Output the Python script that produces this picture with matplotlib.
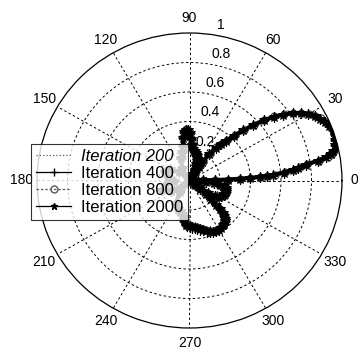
import numpy as np
import matplotlib
matplotlib.use("Agg")
import matplotlib.pyplot as plt
from matplotlib.lines import Line2D

plt.rcParams['font.family'] = ['Liberation Sans', 'DejaVu Sans']

# Angles (degrees) at which the beam patterns were read
angles_deg = [
    -180, -170, -160, -150, -140, -130, -120, -112, -106, -102, -99, -97, -95, -93,
    -90, -87, -84, -81, -78, -75, -72, -69, -66, -63, -60, -57, -54, -52, -50, -48,
    -46, -45, -44, -43, -42, -41, -40, -39, -38, -37, -36, -34, -32, -30, -27, -24,
    -21, -18, -15, -12, -10, -8, -6, -4, -2, -1,
    0, 0.5, 1, 1.5, 2, 2.5, 3, 3.5, 4, 5, 6, 7, 8, 9, 10, 11, 12, 14, 16, 18, 20,
    22, 24, 26, 28, 30, 32, 34, 36, 38, 40, 42, 44, 46, 48, 50, 52, 54, 56, 57, 58,
    59, 60, 61, 62, 64, 66, 68, 70, 72, 74, 76, 78, 80, 82, 84, 86, 88, 90, 92, 94,
    96, 98, 100, 104, 110, 120, 130, 140, 150, 160, 170,
]

r_iter200 = [
    0.10, 0.16, 0.19, 0.14, 0.04, 0.10, 0.18, 0.21, 0.22, 0.23, 0.25, 0.28, 0.30, 0.305,
    0.31, 0.315, 0.32, 0.325, 0.335, 0.345, 0.36, 0.37, 0.38, 0.385, 0.385, 0.38, 0.375, 0.37, 0.36, 0.35,
    0.33, 0.31, 0.28, 0.24, 0.19, 0.14, 0.09, 0.05, 0.01, 0.04, 0.08, 0.15, 0.20, 0.22, 0.235, 0.245,
    0.25, 0.25, 0.25, 0.245, 0.23, 0.20, 0.16, 0.11, 0.055, 0.027,
    0.00, 0.09, 0.17, 0.25, 0.33, 0.40, 0.46, 0.51, 0.55, 0.62, 0.67, 0.71, 0.76, 0.84, 0.90, 0.94, 0.96, 0.98, 0.99, 0.995, 0.995,
    0.985, 0.97, 0.95, 0.925, 0.895, 0.855, 0.81, 0.755, 0.695, 0.63, 0.555, 0.485, 0.415, 0.355, 0.315, 0.275, 0.215, 0.145, 0.105, 0.065,
    0.03, 0.01, 0.03, 0.05, 0.08, 0.10, 0.12, 0.14, 0.155, 0.17, 0.18, 0.19, 0.20, 0.205, 0.215, 0.24, 0.28, 0.32, 0.34, 0.345,
    0.33, 0.29, 0.24, 0.20, 0.16, 0.10, 0.03, 0.09, 0.15, 0.17, 0.14,
]

r_iter400 = [
    0.10, 0.16, 0.19, 0.14, 0.04, 0.10, 0.18, 0.21, 0.22, 0.23, 0.25, 0.28, 0.30, 0.31,
    0.315, 0.32, 0.325, 0.33, 0.34, 0.35, 0.365, 0.375, 0.38, 0.385, 0.385, 0.38, 0.375, 0.37, 0.36, 0.35,
    0.33, 0.31, 0.28, 0.24, 0.19, 0.14, 0.09, 0.05, 0.01, 0.04, 0.08, 0.15, 0.20, 0.22, 0.235, 0.245,
    0.25, 0.25, 0.25, 0.245, 0.23, 0.20, 0.16, 0.11, 0.055, 0.027,
    0.00, 0.09, 0.17, 0.25, 0.33, 0.40, 0.46, 0.51, 0.55, 0.62, 0.68, 0.72, 0.77, 0.85, 0.91, 0.945, 0.965, 0.985, 0.995, 1.0, 1.0,
    0.99, 0.975, 0.955, 0.93, 0.90, 0.86, 0.815, 0.76, 0.70, 0.635, 0.56, 0.49, 0.42, 0.36, 0.32, 0.28, 0.22, 0.15, 0.11, 0.07,
    0.03, 0.01, 0.03, 0.05, 0.08, 0.10, 0.12, 0.14, 0.155, 0.17, 0.18, 0.19, 0.20, 0.205, 0.215, 0.24, 0.28, 0.32, 0.34, 0.345,
    0.33, 0.29, 0.24, 0.20, 0.16, 0.10, 0.03, 0.09, 0.15, 0.17, 0.14,
]

r_iter800 = [
    0.10, 0.16, 0.19, 0.14, 0.04, 0.10, 0.18, 0.21, 0.22, 0.23, 0.25, 0.28, 0.30, 0.30,
    0.305, 0.31, 0.315, 0.32, 0.33, 0.34, 0.355, 0.365, 0.375, 0.38, 0.38, 0.375, 0.37, 0.365, 0.355, 0.345,
    0.325, 0.305, 0.275, 0.235, 0.185, 0.135, 0.09, 0.05, 0.01, 0.04, 0.08, 0.15, 0.195, 0.215, 0.23, 0.24,
    0.245, 0.25, 0.245, 0.24, 0.225, 0.195, 0.155, 0.105, 0.055, 0.027,
    0.00, 0.09, 0.17, 0.25, 0.33, 0.40, 0.46, 0.51, 0.56, 0.63, 0.69, 0.73, 0.78, 0.86, 0.92, 0.95, 0.97, 0.99, 1.0, 1.0, 1.0,
    0.995, 0.98, 0.96, 0.935, 0.905, 0.865, 0.82, 0.765, 0.705, 0.64, 0.565, 0.495, 0.425, 0.365, 0.325, 0.285, 0.225, 0.155, 0.11, 0.07,
    0.03, 0.01, 0.03, 0.05, 0.08, 0.10, 0.12, 0.14, 0.155, 0.17, 0.18, 0.19, 0.20, 0.21, 0.22, 0.245, 0.285, 0.325, 0.345, 0.35,
    0.335, 0.295, 0.24, 0.20, 0.16, 0.10, 0.03, 0.09, 0.15, 0.17, 0.14,
]

r_iter2000 = [
    0.10, 0.16, 0.19, 0.14, 0.04, 0.10, 0.18, 0.21, 0.22, 0.23, 0.25, 0.28, 0.30, 0.305,
    0.31, 0.315, 0.32, 0.325, 0.335, 0.345, 0.36, 0.37, 0.38, 0.385, 0.385, 0.38, 0.375, 0.37, 0.36, 0.35,
    0.33, 0.31, 0.28, 0.24, 0.19, 0.14, 0.09, 0.05, 0.01, 0.04, 0.08, 0.15, 0.20, 0.22, 0.235, 0.245,
    0.25, 0.25, 0.25, 0.245, 0.23, 0.20, 0.16, 0.11, 0.055, 0.027,
    0.00, 0.09, 0.17, 0.25, 0.33, 0.40, 0.46, 0.51, 0.55, 0.62, 0.68, 0.72, 0.77, 0.85, 0.91, 0.945, 0.965, 0.985, 0.995, 1.0, 1.0,
    0.99, 0.975, 0.955, 0.93, 0.90, 0.86, 0.815, 0.76, 0.70, 0.635, 0.56, 0.49, 0.42, 0.36, 0.32, 0.28, 0.22, 0.15, 0.11, 0.07,
    0.03, 0.01, 0.03, 0.05, 0.08, 0.10, 0.12, 0.14, 0.155, 0.17, 0.18, 0.19, 0.20, 0.205, 0.215, 0.24, 0.28, 0.32, 0.34, 0.345,
    0.33, 0.29, 0.24, 0.20, 0.16, 0.10, 0.03, 0.09, 0.15, 0.17, 0.14,
]

series_labels = ['Iteration 200', 'Iteration 400', 'Iteration 800', 'Iteration 2000']
theta_ticks = [0, 30, 60, 90, 120, 150, 180, 210, 240, 270, 300, 330]
theta_labels = ['0', '30', '60', '90', '120', '150', '180', '210', '240', '270', '300', '330']
r_ticks = [0.2, 0.4, 0.6, 0.8, 1.0]
r_labels = ['0.2', '0.4', '0.6', '0.8', '1']

W, H = 358, 349
fig = plt.figure(figsize=(W / 100, H / 100), dpi=100)
cx, cy, rx, ry = 189.5, 180.5, 152.5, 147.5
ax = fig.add_axes([(cx - rx) / W, (H - cy - ry) / H, 2 * rx / W, 2 * ry / H],
                  projection='polar')
ax.set_aspect('auto')
ax.set_theta_zero_location('E')
ax.set_rlim(0, 1)

grid_kw = dict(color='black', linewidth=0.7, linestyle=(0, (2.5, 2.5)))
ax.set_xticks(np.deg2rad(theta_ticks))
ax.set_xticklabels([])
ax.set_yticks(r_ticks[:-1])
ax.set_yticklabels([])
ax.xaxis.grid(True, **grid_kw)
ax.yaxis.grid(True, **grid_kw)
ax.spines['polar'].set_color('black')
ax.spines['polar'].set_linewidth(0.9)
ax.tick_params(length=0)

th = np.deg2rad(angles_deg)
styles = [
    dict(linestyle=':', color='0.35', linewidth=1.0),
    dict(linestyle='-', color='black', linewidth=2.2, marker='+', markersize=7,
         markeredgewidth=1.0),
    dict(linestyle='--', color='0.2', linewidth=1.5, marker='o', markersize=5,
         markerfacecolor='none', markeredgewidth=0.8),
    dict(linestyle='-', color='black', linewidth=3.0, marker='*', markersize=7,
         markeredgewidth=0.6),
]
for r, lab, st in zip([r_iter200, r_iter400, r_iter800, r_iter2000], series_labels, styles):
    ax.plot(th, r, label=lab, **st)

for a, lab in zip(theta_ticks, theta_labels):
    rr = 1.08 if a == 0 else 1.1
    ax.text(np.deg2rad(a), rr, lab, ha='center', va='center', fontsize=10,
            clip_on=False)
for rv, lab in zip(r_ticks, r_labels):
    ax.text(np.deg2rad(80), rv + 0.02, lab, ha='left', va='bottom', fontsize=10,
            clip_on=False)

# Legend proxies: thin lines with small markers, as in the reference legend
proxy = [
    Line2D([], [], linestyle=':', color='0.35', linewidth=0.9),
    Line2D([], [], linestyle='-', color='black', linewidth=0.9, marker='+', markersize=6),
    Line2D([], [], linestyle=(0, (2, 1.5)), color='0.35', linewidth=0.9, marker='o',
           markersize=5, markerfacecolor='none'),
    Line2D([], [], linestyle='-', color='black', linewidth=0.9, marker='*', markersize=5),
]
leg = fig.legend(proxy, series_labels, loc='upper left',
                 bbox_to_anchor=(31 / W, (H - 144) / H), borderaxespad=0,
                 fontsize=12, frameon=True, fancybox=False, numpoints=1,
                 handlelength=2.1, handletextpad=0.6, labelspacing=0.12,
                 borderpad=0.3)
leg.get_frame().set_edgecolor('black')
leg.get_frame().set_linewidth(0.8)
leg.get_texts()[0].set_style('italic')
leg.set_zorder(10)

fig.savefig('out.png', dpi=100)
